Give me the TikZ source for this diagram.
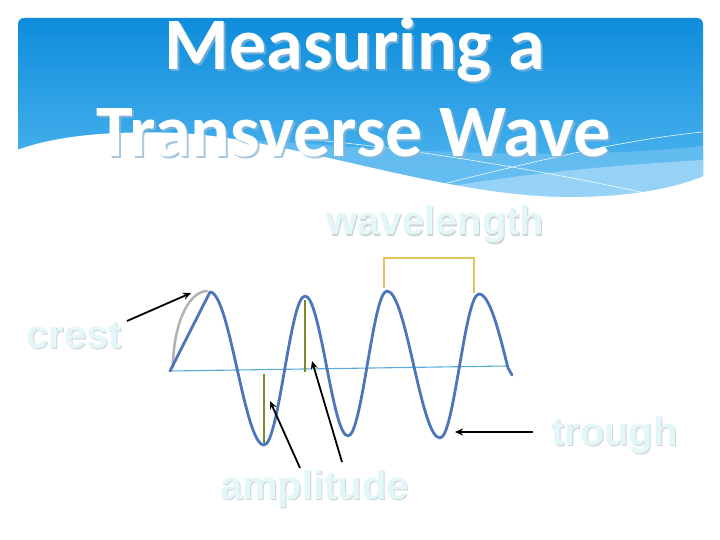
\documentclass[tikz,border=0pt]{standalone}
\usepackage{fontspec}
\usetikzlibrary{arrows.meta}
\newfontfamily\titlefont{Carlito}
\newfontfamily\labelfont{Liberation Sans}
\definecolor{bannertop}{RGB}{14,141,219}
\definecolor{bannerbot}{RGB}{86,186,242}
\definecolor{bandA}{RGB}{112,194,242}
\definecolor{bandB}{RGB}{162,216,248}
\definecolor{titleshadow}{RGB}{140,182,214}
\definecolor{labelc}{RGB}{228,247,248}
\definecolor{labelsh}{RGB}{205,212,214}
\definecolor{wavec}{RGB}{76,118,186}
\definecolor{axisc}{RGB}{90,170,220}
\definecolor{ampc}{RGB}{122,138,40}
\definecolor{wlc}{RGB}{226,196,90}
\begin{document}
\begin{tikzpicture}[x=1pt,y=-1pt,
  lbl/.style={font=\labelfont\bfseries\fontsize{40}{48}\selectfont, text=labelc, anchor=base, inner sep=0pt},
  lblsh/.style={lbl, text=labelsh},
  ttl/.style={font=\titlefont\bfseries\fontsize{74}{87}\selectfont, text=white, anchor=base, inner sep=0pt},
  ttlsh/.style={ttl, text=titleshadow, opacity=0.75},
  wave/.style={draw=wavec, line width=2.8pt, line join=round, line cap=round},
  axisline/.style={draw=axisc, line width=1.1pt},
  ampline/.style={draw=ampc, line width=2pt},
  wlline/.style={draw=wlc, line width=1.2pt},
  pointer/.style={draw=black, line width=1.8pt, -{Stealth[length=8pt,width=7pt]}},
  thinwhite/.style={draw=white, line width=0.6pt, opacity=0.9}
]
\useasboundingbox (0,0) rectangle (720,540);
\fill[white] (0,0) rectangle (720,540);
% banner
\shade[top color=bannertop, bottom color=bannerbot, rounded corners=6pt] (18,18) rectangle (703,202);
\fill[bandA, opacity=0.7] (250,140) .. controls (400,150) and (550,162) .. (703,146) -- (703,202) -- (250,202) -- cycle;
\fill[bandB, opacity=0.8] (420,192) .. controls (500,176) and (600,166) .. (703,160) -- (703,202) -- (420,202) -- cycle;
\fill[white] (17,150) .. controls (50,138) and (100,130) .. (180,133) .. controls (300,140) and (450,200) .. (580,197) .. controls (640,196) and (680,186) .. (704,176) -- (704,206) -- (17,206) -- cycle;
\draw[thinwhite] (300,139) .. controls (400,146) and (550,172) .. (645,193);
\draw[thinwhite] (443,184) .. controls (520,165) and (620,140) .. (703,132);
% title
\node[ttlsh] at (357,72) {Measuring a};
\node[ttl] (title1) at (355,70) {Measuring a};
\node[ttlsh] at (356,159) {Transverse Wave};
\node[ttl] (title2) at (354,157) {Transverse Wave};
% wave
\draw[axisline] (170,371) -- (506,366);
\draw[draw=gray!60, line width=2.5pt, line cap=round] (173,367) .. controls (173,330) and (186,292) .. (207,291);
\draw[wave] (170,371) -- (210,292) cos (237,368.5) sin (264,445) cos (284.5,370.5) sin (305,296)
  cos (326.5,366) sin (348,436) cos (367.5,363.5) sin (387,291) cos (413.5,364.5) sin (440,438)
  cos (459.5,366) sin (479,294) cos (508,368) -- (512,375);
\draw[ampline] (264,374) -- (264,443);
\draw[ampline] (305,300) -- (305,372);
\draw[wlline] (384,288) -- (384,258) -- (474,258) -- (474,293);
% labels
\node[lblsh] at (436.5,236.5) {wavelength};
\node[lbl] (wl) at (435.5,235) {wavelength};
\node[lblsh] at (75.5,349.5) {crest};
\node[lbl] (crest) at (74.5,348) {crest};
\node[lblsh] at (615.5,446.5) {trough};
\node[lbl] (trough) at (614.5,445) {trough};
\node[lblsh] at (315.5,500.5) {amplitude};
\node[lbl] (amp) at (314.5,499) {amplitude};
% pointers
\coordinate (crestT) at (127,321);
\coordinate (crestH) at (191,293);
\coordinate (a1T) at (300,468);
\coordinate (a1H) at (270,401);
\coordinate (a2T) at (342,462);
\coordinate (a2H) at (312,361);
\coordinate (trT) at (533,432);
\coordinate (trH) at (455,432);
\draw[pointer] (crestT) -- (crestH);
\draw[pointer] (a1T) -- (a1H);
\draw[pointer] (a2T) -- (a2H);
\draw[pointer] (trT) -- (trH);
\end{tikzpicture}
\end{document}
